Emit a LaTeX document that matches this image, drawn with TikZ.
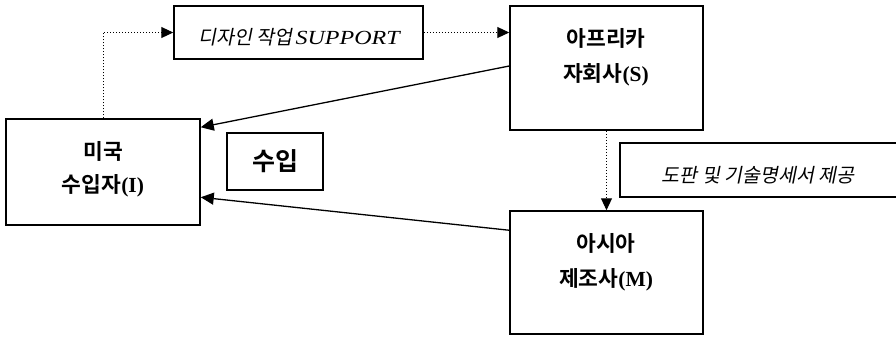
\documentclass[tikz,border=0pt]{standalone}
\usepackage{fontspec}
\setmainfont{Liberation Serif}
\newfontfamily\kob{Noto Sans CJK KR Bold}
\newfontfamily\koit{Noto Sans CJK KR}[FakeSlant=0.2]
\usetikzlibrary{arrows.meta}
\begin{document}
\begin{tikzpicture}[x=1pt,y=-1pt,
  box/.style={draw, line width=1.5pt, inner sep=0pt},
  lbl/.style={font=\kob\fontsize{21.5}{23}\selectfont, inner sep=0pt},
  itl/.style={font=\koit\fontsize{19.5}{22}\selectfont, inner sep=0pt},
  dotline/.style={dotted, line width=1pt, -{Triangle[length=12pt,width=11pt]}},
  solidarr/.style={line width=1.3pt, -{Triangle[length=13pt,width=12pt]}}]
\useasboundingbox (0,0) rectangle (896,338);
% boxes
\node[box, minimum width=249pt, minimum height=53pt] (D) at (298.5,32.5) {};
\node[box, minimum width=193pt, minimum height=124pt] (S) at (606.5,68) {};
\node[box, minimum width=194pt, minimum height=106pt] (I) at (103,172) {};
\node[box, minimum width=96pt, minimum height=57pt] (Q) at (275,161.5) {};
\node[box, minimum width=280pt, minimum height=54pt] (T) at (760,170) {};
\node[box, minimum width=193pt, minimum height=123pt] (M) at (606.5,272.5) {};
% texts
\node[itl] (Dt) at (299,37) {디자인 작업\,{\rmfamily\itshape\fontsize{20}{22}\selectfont\scalebox{1.2}[1]{SUPPORT}}};
\node[itl] (Tt) at (758,175) {도판 및 기술명세서 제공};
\node[lbl] (I1) at (103,151) {미국};
\node[lbl] (I2) at (103,186) {수입자{\rmfamily\bfseries(I)}};
\node[lbl] (S1) at (606,38) {아프리카};
\node[lbl] (S2) at (606,75) {자회사{\rmfamily\bfseries(S)}};
\node[lbl] (M1) at (606,243) {아시아};
\node[lbl] (M2) at (606,280) {제조사{\rmfamily\bfseries(M)}};
\node[lbl, font=\kob\fontsize{25}{27}\selectfont] (Qt) at (275,161) {수입};
% connectors
\draw[dotline] (I.north) |- (D.west);
\draw[dotline] (D.east) -- (D.east -| S.west);
\draw[dotline] (S.south) -- (M.north);
\draw[solidarr] ([yshift=2pt]S.west) -- ([yshift=-9pt]I.north east);
\draw[solidarr] ([yshift=-20pt]M.north west) -- ([yshift=-79pt]I.north east);
\end{tikzpicture}
\end{document}
